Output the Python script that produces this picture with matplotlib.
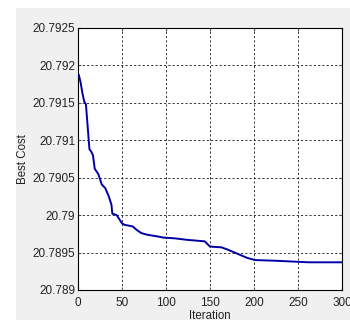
import matplotlib
matplotlib.use("Agg")
import matplotlib.pyplot as plt
from matplotlib.patches import Rectangle

# best cost per iteration (points where it changes)
iters = [1, 3, 5, 7, 9, 13, 15, 17, 19, 23, 27, 31, 35, 38, 39, 44, 50, 53,
         62, 67, 72, 78, 93, 97, 110, 124, 144, 150, 163, 170, 182, 192, 201,
         226, 262, 300]
best_cost = [20.79187, 20.79177, 20.79163, 20.79152, 20.79148, 20.79088,
             20.79085, 20.79080, 20.79062, 20.79055, 20.79041, 20.79036,
             20.79025, 20.79014, 20.79002, 20.79000, 20.78989, 20.78987,
             20.78985, 20.78980, 20.78976, 20.78974, 20.78971, 20.78970,
             20.78969, 20.78967, 20.78965, 20.78958, 20.78957, 20.78954,
             20.78948, 20.78943, 20.78940, 20.78939, 20.78937, 20.78937]

xticks = [0, 50, 100, 150, 200, 250, 300]
yticks = [20.789, 20.7895, 20.79, 20.7905, 20.791, 20.7915, 20.792, 20.7925]
ytick_labels = ["20.789", "20.7895", "20.79", "20.7905", "20.791",
                "20.7915", "20.792", "20.7925"]

W, H = 350, 320
plt.rcParams['font.family'] = ['Liberation Sans', 'DejaVu Sans']
txt = '#222222'

fig = plt.figure(figsize=(W / 100, H / 100), dpi=100, facecolor='white')
# grey matlab window area (white strip top and left)
bg = Rectangle((16 / W, 0), 1 - 16 / W, 1 - 8 / H,
               transform=fig.transFigure, facecolor='#f0f0f0',
               edgecolor='none', zorder=-10)
fig.add_artist(bg)

ax = fig.add_axes([78 / W, 30 / H, 264 / W, 262 / H])
ax.set_facecolor('white')
ax.plot(iters, best_cost, color='#0000a8', lw=1.4, zorder=3)

ax.set_xlim(0, 300)
ax.set_ylim(20.789, 20.7925)
ax.set_xticks(xticks)
ax.set_yticks(yticks)
ax.set_yticklabels(ytick_labels)
ax.tick_params(labelsize=8.5, direction='in', length=2.5, color='#555555',
               labelcolor=txt, top=True, right=True)
ax.tick_params(axis='x', pad=5)
ax.tick_params(axis='y', pad=2)
ax.grid(True, color='black', linestyle=(0, (2.2, 2.2)), lw=0.7, alpha=0.8)
for s in ax.spines.values():
    s.set_color('black')
    s.set_linewidth(0.8)

ax.set_xlabel('Iteration', fontsize=8.3, color=txt, labelpad=0.5)
ax.set_ylabel('Best Cost', fontsize=8.3, color=txt)
ax.yaxis.set_label_coords(-0.185, 0.5)

fig.savefig('out.png', dpi=100, facecolor=fig.get_facecolor())
